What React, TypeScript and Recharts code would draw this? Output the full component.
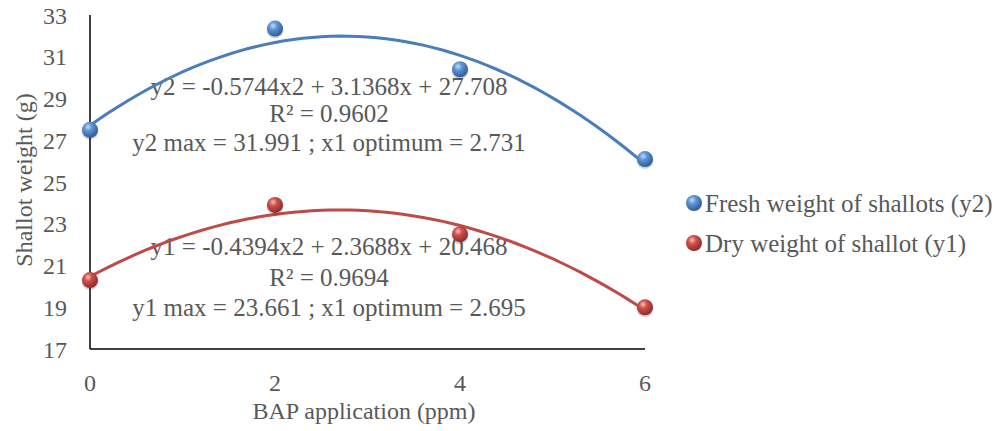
import React from 'react';
import { ComposedChart, Line, Scatter, XAxis, YAxis } from 'recharts';

// ---- data ----
const bapLevels = [0, 2, 4, 6];
const freshWeight = [27.5, 32.35, 30.4, 26.1];
const dryWeight = [20.3, 23.9, 22.5, 19.0];
// quadratic trendline coefficients [a, b, c] shown on the chart
const freshCoef = [-0.5744, 3.1368, 27.708];
const dryCoef = [-0.4394, 2.3688, 20.468];
const xTicks = [0, 2, 4, 6];
const yTicks = [17, 19, 21, 23, 25, 27, 29, 31, 33];
const freshName = 'Fresh weight of shallots (y2)';
const dryName = 'Dry weight of shallot (y1)';
const freshLabels = ['y2 = -0.5744x2 + 3.1368x + 27.708', 'R² = 0.9602', 'y2 max = 31.991 ; x1 optimum = 2.731'];
const dryLabels = ['y1 = -0.4394x2 + 2.3688x + 20.468', 'R² = 0.9694', 'y1 max = 23.661 ; x1 optimum = 2.695'];

const freshPts = bapLevels.map((x, i) => ({ x, y: freshWeight[i] }));
const dryPts = bapLevels.map((x, i) => ({ x, y: dryWeight[i] }));
const trendXs = Array.from({ length: 61 }, (_, i) => i / 10);
const trend = (c: number[]) => trendXs.map((x) => ({ x, y: c[0] * x * x + c[1] * x + c[2] }));
const freshTrend = trend(freshCoef);
const dryTrend = trend(dryCoef);

const FONT = '"Liberation Serif", "Times New Roman", serif';
const TXT = '#595959';
const BLUE = '#4a7ebb';
const RED = '#be4b48';
const FS = 24;
const FS2 = 25;

const Grads = () => (
  <defs>
    <radialGradient id="gBlue" cx="38%" cy="32%" r="70%">
      <stop offset="0%" stopColor="#c4dcf7" />
      <stop offset="35%" stopColor="#5f95d6" />
      <stop offset="100%" stopColor="#2c5a92" />
    </radialGradient>
    <radialGradient id="gRed" cx="38%" cy="32%" r="70%">
      <stop offset="0%" stopColor="#f6c2c0" />
      <stop offset="35%" stopColor="#d0504c" />
      <stop offset="100%" stopColor="#8a2a28" />
    </radialGradient>
  </defs>
);

const Ball = (props: any) => {
  const { cx, cy, grad } = props;
  if (cx == null || cy == null) return null;
  return (
    <g>
      <circle cx={cx} cy={cy + 1.5} r={8.5} fill="rgba(0,0,0,0.18)" />
      <circle cx={cx} cy={cy} r={8} fill={`url(#${grad})`} />
    </g>
  );
};

const Annot = ({ lines, y0 }: { lines: string[]; y0: number[] }) => (
  <g>
    {lines.map((t, i) => (
      <text key={i} x={329} y={y0[i]} textAnchor="middle" dominantBaseline="central" fontFamily={FONT} fontSize={FS2} fill={TXT}>{t}</text>
    ))}
  </g>
);

export default function App() {
  return (
    <div style={{ position: 'fixed', left: 0, top: 0, width: 998, height: 431, background: '#fff' }}>
      <ComposedChart width={998} height={431} margin={{ top: 15, right: 353, bottom: 0, left: 0 }}>
        <Grads />
        <XAxis
          type="number"
          dataKey="x"
          domain={[0, 6]}
          ticks={xTicks}
          height={82}
          axisLine={{ stroke: '#000', strokeWidth: 1.5 }}
          tickLine={false}
          tickSize={0}
          tickMargin={25}
          tick={{ fontFamily: FONT, fontSize: FS, fill: TXT }}
          label={{
            content: () => (
              <text x={364} y={411} textAnchor="middle" dominantBaseline="central" fontFamily={FONT} fontSize={FS} fill={TXT}>BAP application (ppm)</text>
            ),
          }}
        />
        <YAxis
          type="number"
          domain={[17, 33]}
          ticks={yTicks}
          width={90}
          axisLine={{ stroke: '#000', strokeWidth: 1.5 }}
          tickLine={false}
          tickSize={0}
          tickMargin={23}
          tick={{ fontFamily: FONT, fontSize: FS, fill: TXT }}
          label={{
            content: () => (
              <text x={24} y={180} textAnchor="middle" dominantBaseline="central" transform="rotate(-90 24 180)" fontFamily={FONT} fontSize={FS} fill={TXT}>Shallot weight (g)</text>
            ),
          }}
        />
        <Line data={freshTrend} dataKey="y" type="linear" stroke={BLUE} strokeWidth={3} dot={false} activeDot={false} isAnimationActive={false} legendType="none" />
        <Line data={dryTrend} dataKey="y" type="linear" stroke={RED} strokeWidth={3} dot={false} activeDot={false} isAnimationActive={false} legendType="none" />
        <Scatter data={freshPts} dataKey="y" name={freshName} shape={(p: any) => <Ball {...p} grad="gBlue" />} isAnimationActive={false} />
        <Scatter data={dryPts} dataKey="y" name={dryName} shape={(p: any) => <Ball {...p} grad="gRed" />} isAnimationActive={false} />
        <Annot lines={freshLabels} y0={[86, 113, 142]} />
        <Annot lines={dryLabels} y0={[246, 277, 307]} />
      </ComposedChart>
      <svg width={312} height={80} style={{ position: 'absolute', left: 686, top: 190, overflow: 'visible' }}>
        <circle cx={8} cy={13} r={8} fill="url(#gBlue)" />
        <text x={19} y={13} dominantBaseline="central" fontFamily={FONT} fontSize={FS2} fill={TXT}>{freshName}</text>
        <circle cx={8} cy={53} r={8} fill="url(#gRed)" />
        <text x={19} y={53} dominantBaseline="central" fontFamily={FONT} fontSize={FS2} fill={TXT}>{dryName}</text>
      </svg>
    </div>
  );
}
